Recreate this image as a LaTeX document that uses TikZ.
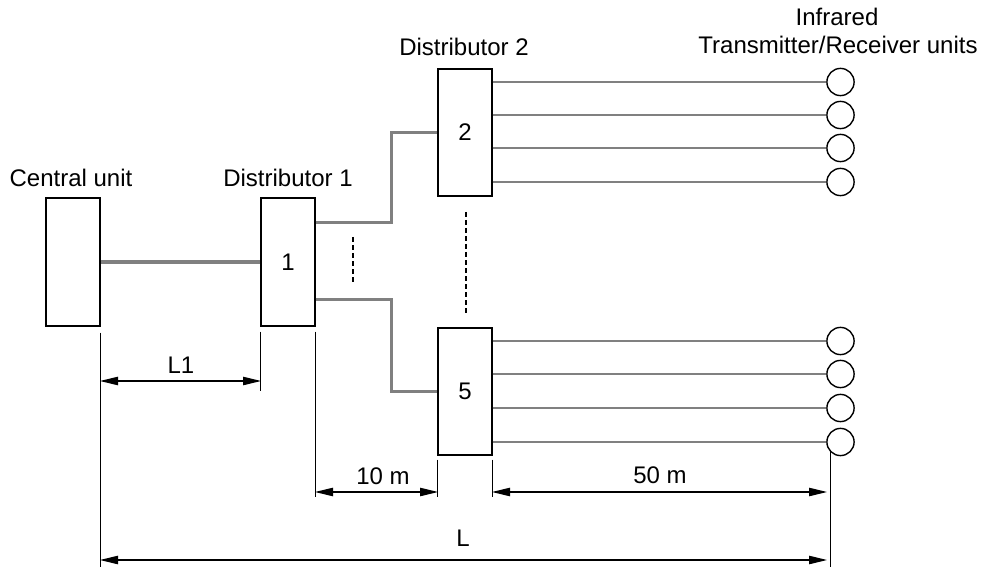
\documentclass[tikz,border=0pt]{standalone}
\usepackage{fontspec}
\setmainfont{Liberation Sans}
\usetikzlibrary{arrows.meta}
\begin{document}
\begin{tikzpicture}[x=0.5pt,y=-0.5pt,
  box/.style={draw=black,line width=0.7pt,minimum width=27pt,minimum height=64pt,inner sep=0pt,font=\fontsize{12}{14}\selectfont},
  unit/.style={draw=black,line width=0.7pt,circle,minimum size=13.6pt,inner sep=0pt},
  lbl/.style={anchor=base,inner sep=0pt,font=\fontsize{12}{14}\selectfont},
  trunk/.style={draw={rgb,255:red,128;green,128;blue,128},line width=2pt},
  branch/.style={draw={rgb,255:red,128;green,128;blue,128},line width=1.5pt},
  feed/.style={draw={rgb,255:red,128;green,128;blue,128},line width=1.1pt},
  ext/.style={draw=black,line width=0.55pt},
  dim/.style={draw=black,line width=0.55pt,{Triangle[length=9pt,width=4.2pt]}-{Triangle[length=9pt,width=4.2pt]}},
  dots/.style={draw=black,line width=1.3pt,dash pattern=on 2.5pt off 1.5pt}]
\useasboundingbox (0,0) rectangle (981,567);
% boxes
\node[box] (cu) at (73,262) {};
\node[box] (d1) at (288,262) {1};
\node[box,minimum height=63.5pt] (d2) at (465,132.5) {2};
\node[box,minimum height=63.5pt] (d5) at (465,391.5) {5};
% labels
\node[lbl] (tcu) at (71,187) {Central unit};
\node[lbl] (td1) at (288,187) {Distributor 1};
\node[lbl] (td2) at (464,56) {Distributor 2};
\node[lbl] (tir1) at (837,26) {Infrared};
\node[lbl] (tir2) at (838,54) {Transmitter/Receiver units};
% units
\foreach \i/\y in {1/82,2/115,3/148,4/182,5/341,6/374,7/408,8/442}{
  \node[unit] (c\i) at (840.5,\y) {};
}
\foreach \i in {1,2,3,4}{\draw[feed] (d2.east |- c\i.west) -- (c\i.west);}
\foreach \i in {5,6,7,8}{\draw[feed] (d5.east |- c\i.west) -- (c\i.west);}
% trunk
\draw[trunk] (cu.east) -- (d1.west);
\draw[branch] ([yshift=-12.5pt]d1.north east) -- ++(38pt,0) |- (d2.west);
\draw[branch] ([yshift=13.5pt]d1.south east) -- ++(38pt,0) |- (d5.west);
% dotted
\coordinate (k1) at (353,237);
\coordinate (k2) at (353,284);
\coordinate (k3) at (466,212);
\coordinate (k4) at (466,313);
\draw[dots] (k1) -- (k2);
\draw[dots] (k3) -- (k4);
% extension lines
\draw[ext] ([yshift=-3pt]cu.south east) -- (cu.south east |- 0,567);
\draw[ext] ([yshift=-2.5pt]d1.south west) -- (d1.south west |- 0,391);
\draw[ext] ([yshift=-2.5pt]d1.south east) -- (d1.south east |- 0,497);
\draw[ext] ([yshift=-2pt]d5.south west) -- (d5.south west |- 0,497);
\draw[ext] ([yshift=-2pt]d5.south east) -- (d5.south east |- 0,497);
\draw[ext] (c8.south west |- 0,452) -- (c8.south west |- 0,567);
% dimension arrows
\coordinate (a1) at (100,381);
\coordinate (a2) at (261,381);
\draw[dim] (a1) -- (a2);
\node[lbl] (l1) at (181,373) {L1};
\coordinate (b1) at (315,492);
\coordinate (b2) at (438,492);
\draw[dim] (b1) -- (b2);
\node[lbl] (l10) at (383,484) {10 m};
\coordinate (e1) at (492,492);
\coordinate (e2) at (827,492);
\draw[dim] (e1) -- (e2);
\node[lbl] (l50) at (660,483) {50 m};
\coordinate (f1) at (100,560);
\coordinate (f2) at (827,560);
\draw[dim] (f1) -- (f2);
\node[lbl] (ll) at (463,546) {L};
\end{tikzpicture}
\end{document}
